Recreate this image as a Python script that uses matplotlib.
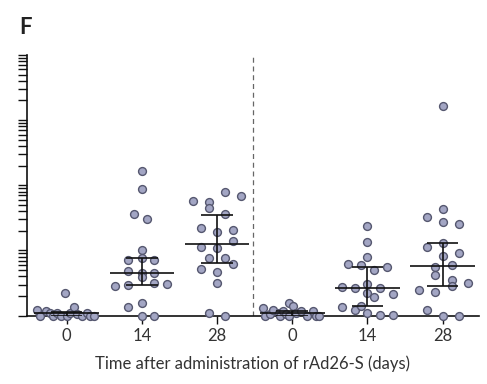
import numpy as np
import matplotlib
matplotlib.use("Agg")
import matplotlib.pyplot as plt
from matplotlib.ticker import LogLocator, NullFormatter

plt.rcParams['font.family'] = ['Lato', 'DejaVu Sans']

# category labels (day after administration), two cohorts
tick_labels = ['0', '14', '28', '0', '14', '28']

# log10 titre per animal (0 = at detection floor)
g1 = [0.09, 0, 0.065, 0.04, 0, 0.04, 0, 0.35, 0, 0.04, 0.14, 0.03, 0, 0.04, 0, 0]
g1_dx = [-0.40, -0.35, -0.28, -0.22, -0.18, -0.13, -0.08, -0.02, 0, 0.05, 0.10, 0.14, 0.20, 0.27, 0.31, 0.36]

g2 = [2.22, 1.95, 1.56, 1.48, 1.01, 0.85, 0.88, 0.85, 0.69, 0.66, 0.59, 0.65,
      0.46, 0.47, 0.50, 0.48, 0.14, 0.19, 0, 0]
g2_dx = [0, 0, -0.10, 0.07, 0, -0.18, 0, 0.16, -0.18, 0, 0, 0.16,
         -0.36, -0.18, 0.16, 0.33, -0.18, 0, 0, 0.16]

g3 = [1.89, 1.83, 1.76, 1.75, 1.65, 1.56, 1.35, 1.29, 1.31, 1.15, 1.06, 1.04,
      0.88, 0.88, 0.80, 0.71, 0.67, 0.50, 0.04, 0]
g3_dx = [0.10, 0.32, -0.32, -0.11, -0.11, 0.10, -0.22, 0, 0.21, 0.21, -0.22, 0,
         -0.11, 0.10, 0.21, -0.22, 0, 0, -0.11, 0.10]

g4 = [0.12, 0, 0.03, 0.09, 0.04, 0, 0.07, 0.03, 0.20, 0, 0.15, 0.04, 0.07, 0, 0.07, 0, 0]
g4_dx = [-0.39, -0.36, -0.30, -0.26, -0.18, -0.17, -0.13, -0.08, -0.04, -0.04, 0.01, 0.05,
         0.12, 0.19, 0.28, 0.32, 0.36]

g5 = [1.37, 1.13, 0.90, 0.79, 0.78, 0.70, 0.74, 0.44, 0.42, 0.49, 0.43, 0.34,
      0.29, 0.33, 0.14, 0.08, 0.15, 0.04, 0.01, 0.01]
g5_dx = [0, 0, 0, -0.26, -0.09, 0.08, 0.26, -0.34, -0.17, 0, 0.17, 0,
         0.08, 0.34, -0.34, -0.17, -0.09, 0, 0.17, 0.34]

g6 = [3.22, 1.63, 1.52, 1.44, 1.41, 1.06, 1.11, 0.92, 0.96, 0.74, 0.78, 0.62,
      0.54, 0.46, 0.50, 0.39, 0.37, 0.08, 0, 0]
g6_dx = [0, 0, -0.21, 0, 0.22, -0.21, 0, 0, 0.22, -0.10, 0.12, -0.10,
         0.12, 0.12, 0.33, -0.31, -0.10, -0.21, 0, 0.22]

groups = [g1, g2, g3, g4, g5, g6]
offsets = [g1_dx, g2_dx, g3_dx, g4_dx, g5_dx, g6_dx]

# median and interquartile range (log10)
medians = [0.04, 0.65, 1.10, 0.04, 0.43, 0.76]
q1 = [0.0, 0.47, 0.81, 0.0, 0.15, 0.46]
q3 = [0.06, 0.88, 1.54, 0.07, 0.74, 1.11]

fig = plt.figure(figsize=(4.87, 3.84), dpi=100)
ax = fig.add_axes([0.0554, 0.178, 0.9282, 0.679])

ax.set_yscale('log')
ax.set_ylim(1, 1e4)
ax.set_xlim(-0.528, 5.483)

dot_face = '#a3a6c4'
dot_edge = '#55576f'
for i, (vals, dx) in enumerate(zip(groups, offsets)):
    xs = i + np.array(dx)
    ys = 10 ** np.array(vals)
    ax.scatter(xs, ys, s=32, color=dot_face, edgecolor=dot_edge, linewidth=1.0,
               zorder=3, clip_on=False)

for i in range(len(groups)):
    ax.hlines(10 ** medians[i], i - 0.43, i + 0.43, color='#111111', lw=1.2, zorder=4)
    ax.hlines([10 ** q1[i], 10 ** q3[i]], i - 0.21, i + 0.21, color='#111111', lw=1.2, zorder=4)
    ax.vlines(i, 10 ** q1[i], 10 ** q3[i], color='#111111', lw=1.2, zorder=4)

ax.axvline(2.48, color='#666666', lw=0.9, ls=(0, (4, 3)), zorder=1)

for side in ['top', 'right']:
    ax.spines[side].set_visible(False)
for side in ['left', 'bottom']:
    ax.spines[side].set_linewidth(1.2)
    ax.spines[side].set_color('#111111')

ax.yaxis.set_major_locator(LogLocator(base=10, numticks=10))
ax.yaxis.set_minor_locator(LogLocator(base=10, subs=np.arange(2, 10), numticks=20))
ax.yaxis.set_major_formatter(NullFormatter())
ax.yaxis.set_minor_formatter(NullFormatter())
ax.tick_params(axis='y', which='both', length=6.5, width=1.0, color='#111111', direction='out')

ax.set_xticks(range(len(tick_labels)))
ax.set_xticklabels(tick_labels)
ax.tick_params(axis='x', length=6, width=1.0, color='#111111', labelsize=12,
               labelcolor='#333333', pad=3)
ax.set_xlabel('Time after administration of rAd26-S (days)', fontsize=12,
              color='#333333', labelpad=8)

fig.text(0.039, 0.928, 'F', fontsize=16, fontweight='bold', color='#222222',
         ha='left', va='center')

fig.savefig('out.png', dpi=100)
